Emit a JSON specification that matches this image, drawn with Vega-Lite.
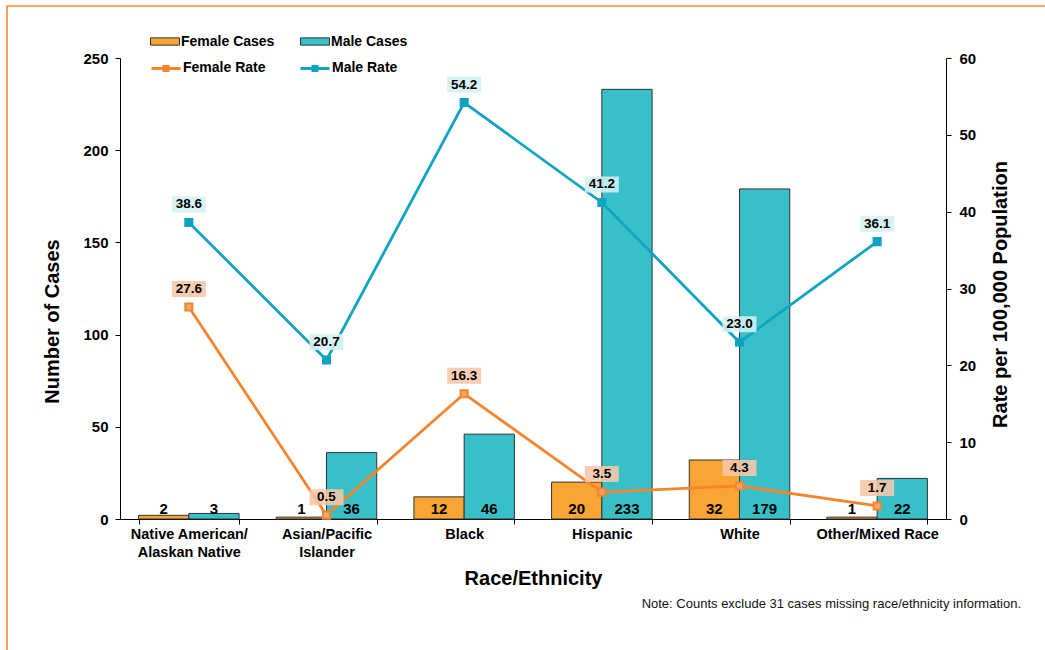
{
  "$schema": "https://vega.github.io/schema/vega-lite/v6.json",
  "autosize": {"type": "none"},
  "width": 1040,
  "height": 646,
  "padding": {"left": 7, "top": 6, "right": -2, "bottom": -2},
  "background": "white",
  "config": {
    "view": {"stroke": "#F58A3A", "strokeWidth": 1.6},
    "font": "Liberation Sans",
    "axis": {
      "labelFont": "Liberation Sans",
      "labelFontWeight": "bold",
      "labelFontSize": 15,
      "labelColor": "#000",
      "titleFont": "Liberation Sans",
      "titleFontWeight": "bold",
      "titleFontSize": 20,
      "titleColor": "#000",
      "domainColor": "#000",
      "domainWidth": 1,
      "tickColor": "#000",
      "tickSize": 5,
      "grid": false
    },
    "legend": {
      "labelFont": "Liberation Sans",
      "labelFontWeight": "bold",
      "labelFontSize": 14,
      "labelColor": "#000",
      "padding": 0
    }
  },
  "title": {
    "text": "Note: Counts exclude 31 cases missing race/ethnicity information.",
    "orient": "bottom",
    "anchor": "end",
    "frame": "group",
    "offset": -54,
    "dx": -26,
    "font": "Liberation Sans",
    "fontSize": 13,
    "fontWeight": "normal",
    "color": "#111"
  },
  "data": {
    "values": [
      {"race": "Native American/Alaskan Native", "sex": "Female", "cases": 2, "rate": 27.6, "casesSeries": "Female Cases", "rateSeries": "Female Rate"},
      {"race": "Native American/Alaskan Native", "sex": "Male", "cases": 3, "rate": 38.6, "casesSeries": "Male Cases", "rateSeries": "Male Rate"},
      {"race": "Asian/Pacific Islander", "sex": "Female", "cases": 1, "rate": 0.5, "casesSeries": "Female Cases", "rateSeries": "Female Rate"},
      {"race": "Asian/Pacific Islander", "sex": "Male", "cases": 36, "rate": 20.7, "casesSeries": "Male Cases", "rateSeries": "Male Rate"},
      {"race": "Black", "sex": "Female", "cases": 12, "rate": 16.3, "casesSeries": "Female Cases", "rateSeries": "Female Rate"},
      {"race": "Black", "sex": "Male", "cases": 46, "rate": 54.2, "casesSeries": "Male Cases", "rateSeries": "Male Rate"},
      {"race": "Hispanic", "sex": "Female", "cases": 20, "rate": 3.5, "casesSeries": "Female Cases", "rateSeries": "Female Rate"},
      {"race": "Hispanic", "sex": "Male", "cases": 233, "rate": 41.2, "casesSeries": "Male Cases", "rateSeries": "Male Rate"},
      {"race": "White", "sex": "Female", "cases": 32, "rate": 4.3, "casesSeries": "Female Cases", "rateSeries": "Female Rate"},
      {"race": "White", "sex": "Male", "cases": 179, "rate": 23.0, "casesSeries": "Male Cases", "rateSeries": "Male Rate"},
      {"race": "Other/Mixed Race", "sex": "Female", "cases": 1, "rate": 1.7, "casesSeries": "Female Cases", "rateSeries": "Female Rate"},
      {"race": "Other/Mixed Race", "sex": "Male", "cases": 22, "rate": 36.1, "casesSeries": "Male Cases", "rateSeries": "Male Rate"}
    ]
  },
  "encoding": {
    "x": {
      "field": "race",
      "type": "nominal",
      "sort": ["Native American/Alaskan Native", "Asian/Pacific Islander", "Black", "Hispanic", "White", "Other/Mixed Race"],
      "scale": {"range": [113, 939], "paddingInner": 0.27, "paddingOuter": 0.135},
      "axis": {
        "orient": "bottom",
        "offset": -133,
        "tickBand": "extent",
        "labelAngle": 0,
        "labelFontSize": 14.5,
        "labelPadding": 3,
        "labelLineHeight": 18,
        "labelLimit": 0,
        "labelExpr": "datum.value == 'Native American/Alaskan Native' ? ['Native American/', 'Alaskan Native'] : datum.value == 'Asian/Pacific Islander' ? ['Asian/Pacific', 'Islander'] : datum.value",
        "title": "Race/Ethnicity",
        "titlePadding": 10
      }
    }
  },
  "layer": [
    {
      "layer": [
        {
          "mark": {"type": "bar", "stroke": "#333", "strokeWidth": 1},
          "encoding": {
            "xOffset": {"field": "sex", "type": "nominal", "scale": {"paddingInner": 0, "paddingOuter": 0}},
            "y": {
              "field": "cases",
              "type": "quantitative",
              "scale": {"domain": [0, 250], "range": [513, 52], "nice": false},
              "axis": {
                "orient": "left",
                "offset": -113,
                "values": [0, 50, 100, 150, 200, 250],
                "labelPadding": 7,
                "title": "Number of Cases",
                "titleX": -58,
                "titleY": 315
              }
            },
            "color": {
              "field": "casesSeries",
              "type": "nominal",
              "scale": {"domain": ["Female Cases", "Male Cases"], "range": ["#F9A533", "#37C0C8"]},
              "legend": {
                "orient": "none",
                "legendX": 143,
                "legendY": 20.5,
                "direction": "horizontal",
                "columns": 2,
                "title": null,
                "symbolType": "M-1,-0.25H1V0.25H-1Z",
                "symbolSize": 841,
                "symbolStrokeColor": "#333",
                "symbolStrokeWidth": 1,
                "labelOffset": 1,
                "columnPadding": 23
              }
            }
          }
        },
        {
          "mark": {"type": "text", "fontSize": 15, "fontWeight": "bold", "baseline": "middle", "dy": -10, "color": "#000"},
          "encoding": {
            "xOffset": {"field": "sex", "type": "nominal"},
            "y": {
              "datum": 0,
              "type": "quantitative",
              "axis": {
                "orient": "left",
                "offset": -113,
                "values": [0, 50, 100, 150, 200, 250],
                "labelPadding": 7,
                "title": "Number of Cases",
                "titleX": -58,
                "titleY": 315
              }
            },
            "text": {"field": "cases", "type": "quantitative"}
          }
        }
      ]
    },
    {
      "encoding": {
        "y": {
          "field": "rate",
          "type": "quantitative",
          "scale": {"domain": [0, 60], "range": [513, 52], "nice": false},
          "axis": {
            "orient": "right",
            "offset": -101,
            "values": [0, 10, 20, 30, 40, 50, 60],
            "labelPadding": 8,
            "title": "Rate per 100,000 Population",
            "titleAngle": 270,
            "titleBaseline": "middle",
            "titleX": 54,
            "titleY": 288
          }
        }
      },
      "layer": [
        {
          "mark": {"type": "line", "strokeWidth": 2.8},
          "encoding": {
            "stroke": {
              "field": "rateSeries",
              "type": "nominal",
              "scale": {"domain": ["Female Rate", "Male Rate"], "range": ["#F5842C", "#0EA4C2"]},
              "legend": {
                "orient": "none",
                "legendX": 143,
                "legendY": 46,
                "direction": "horizontal",
                "columns": 2,
                "title": null,
                "symbolType": "M-1,0H1M-0.14,-0.14H0.14V0.14H-0.14Z",
                "symbolSize": 841,
                "symbolStrokeWidth": 3,
                "labelOffset": 1,
                "columnPadding": 28
              }
            },
            "order": {"value": null}
          }
        },
        {
          "mark": {"type": "point", "shape": "square", "filled": true, "size": 50, "opacity": 1},
          "encoding": {
            "fill": {
              "field": "rateSeries",
              "type": "nominal",
              "scale": {"domain": ["Female Rate", "Male Rate"], "range": ["#F4A56E", "#0AA3C1"]},
              "legend": {
                "orient": "none",
                "legendX": 143,
                "legendY": 46,
                "direction": "horizontal",
                "columns": 2,
                "title": null,
                "symbolType": "M-1,0H1M-0.14,-0.14H0.14V0.14H-0.14Z",
                "symbolSize": 841,
                "symbolStrokeWidth": 3,
                "labelOffset": 1,
                "columnPadding": 28
              }
            },
            "stroke": {
              "field": "rateSeries",
              "type": "nominal",
              "legend": {
                "orient": "none",
                "legendX": 143,
                "legendY": 46,
                "direction": "horizontal",
                "columns": 2,
                "title": null,
                "symbolType": "M-1,0H1M-0.14,-0.14H0.14V0.14H-0.14Z",
                "symbolSize": 841,
                "symbolStrokeWidth": 3,
                "labelOffset": 1,
                "columnPadding": 28
              }
            }
          }
        },
        {
          "mark": {"type": "point", "shape": "M-1.7,-2.6H1.7V-1H-1.7Z", "filled": true, "size": 400, "opacity": 0.88, "strokeWidth": 0},
          "encoding": {
            "fill": {"condition": {"test": "datum.sex == 'Female'", "value": "#F8C6A8"}, "value": "#D4F0F3"}
          }
        },
        {
          "mark": {"type": "text", "fontSize": 13.5, "fontWeight": "bold", "baseline": "middle", "dy": -18, "color": "#000"},
          "encoding": {
            "text": {"field": "rate", "type": "quantitative", "format": ".1f"}
          }
        }
      ]
    }
  ],
  "resolve": {"scale": {"y": "independent"}, "axis": {"y": "independent"}}
}
